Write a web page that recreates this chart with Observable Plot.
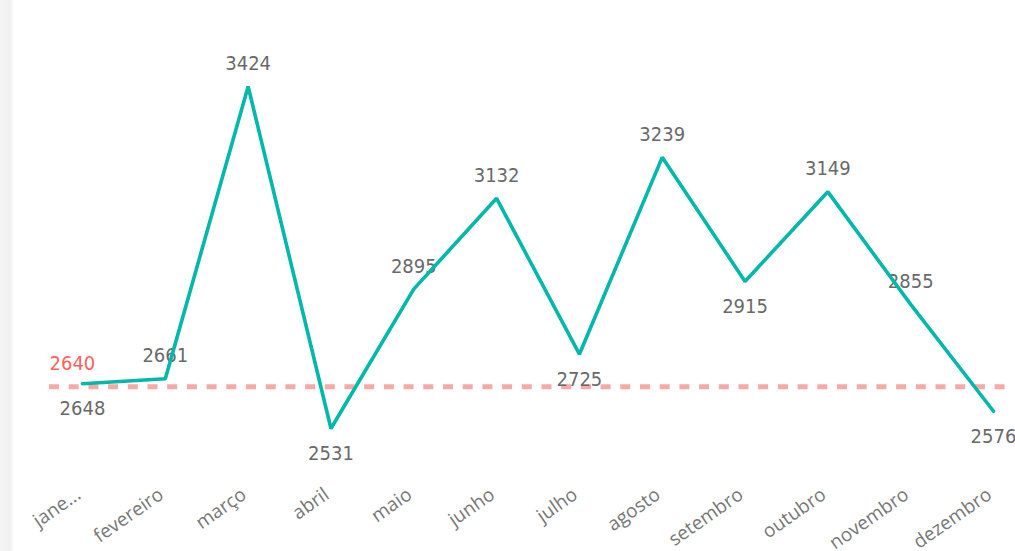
<!DOCTYPE html>
<html><head><meta charset="utf-8">
<script src="https://cdn.jsdelivr.net/npm/d3@7"></script>
<script src="https://cdn.jsdelivr.net/npm/@observablehq/plot@0.6"></script>
<style>
html,body{margin:0;padding:0;background:#fff;overflow:hidden}
#wrap{position:relative;width:1015px;height:551px}
#chart{position:absolute;left:0;top:0}
#shadow{position:absolute;left:0;top:0;width:14px;height:551px;z-index:2;background:linear-gradient(to right,#f4f4f4 0%,#f0f0f0 75%,#fbfbfb 92%,#fff 100%)}
</style></head><body><div id="wrap"><div id="chart"></div><div id="shadow"></div></div>
<script>
const months = ["janeiro","fevereiro","março","abril","maio","junho","julho","agosto","setembro","outubro","novembro","dezembro"];
const tickLabels = ["jane...","fevereiro","março","abril","maio","junho","julho","agosto","setembro","outubro","novembro","dezembro"];
const values = [2648,2661,3424,2531,2895,3132,2725,3239,2915,3149,2855,2576];
const average = [2640];

// label placement derived from neighbours: local minimum -> below, otherwise above
function placement(i) {
  const v = values[i];
  const lowerThanPrev = i === 0 || v < values[i-1];
  const lowerThanNext = i === values.length - 1 || v < values[i+1];
  return (lowerThanPrev && lowerThanNext) ? "below" : "above";
}
const data = months.map((m, i) => ({month: m, value: values[i], place: placement(i)}));

const labelFont = "'DejaVu Sans Condensed', 'DejaVu Sans', sans-serif";
const labelStyle = {fontFamily: labelFont, fontSize: 20, fill: "#696969"};

const chart = Plot.plot({
  width: 1015,
  height: 551,
  marginLeft: 49,
  marginRight: 8,
  marginTop: 86,
  marginBottom: 123,
  style: {fontFamily: "'Open Sans', 'Noto Sans', sans-serif", background: "transparent"},
  x: {type: "point", domain: months, range: [82, 993], padding: 0, round: false, label: null},
  y: {domain: [2531, 3424], label: null, axis: null},
  marks: [
    Plot.ruleY(average, {stroke: "#f7a9a5", strokeWidth: 5, strokeDasharray: "10,9.7"}),
    Plot.text(average, {y: d => d, frameAnchor: "left", text: d => String(d), textAnchor: "start", dy: -23, fontFamily: labelFont, fontSize: 20, fill: "#fd625e"}),
    Plot.text(data.filter(d => d.place === "above"), {x: "month", y: "value", text: d => String(d.value), dy: -23, ...labelStyle}),
    Plot.text(data.filter(d => d.place === "below"), {x: "month", y: "value", text: d => String(d.value), dy: 25, ...labelStyle}),
    Plot.line(data, {x: "month", y: "value", stroke: "#01b8aa", strokeWidth: 3.6, strokeLinejoin: "miter", strokeLinecap: "round"}),
    Plot.axisX({tickRotate: -35, tickSize: 0, tickPadding: 64, dx: -4, fontSize: 19, fill: "#777", tickFormat: (d) => tickLabels[months.indexOf(d)], label: null})
  ]
});
document.getElementById("chart").appendChild(chart);
</script></body></html>
